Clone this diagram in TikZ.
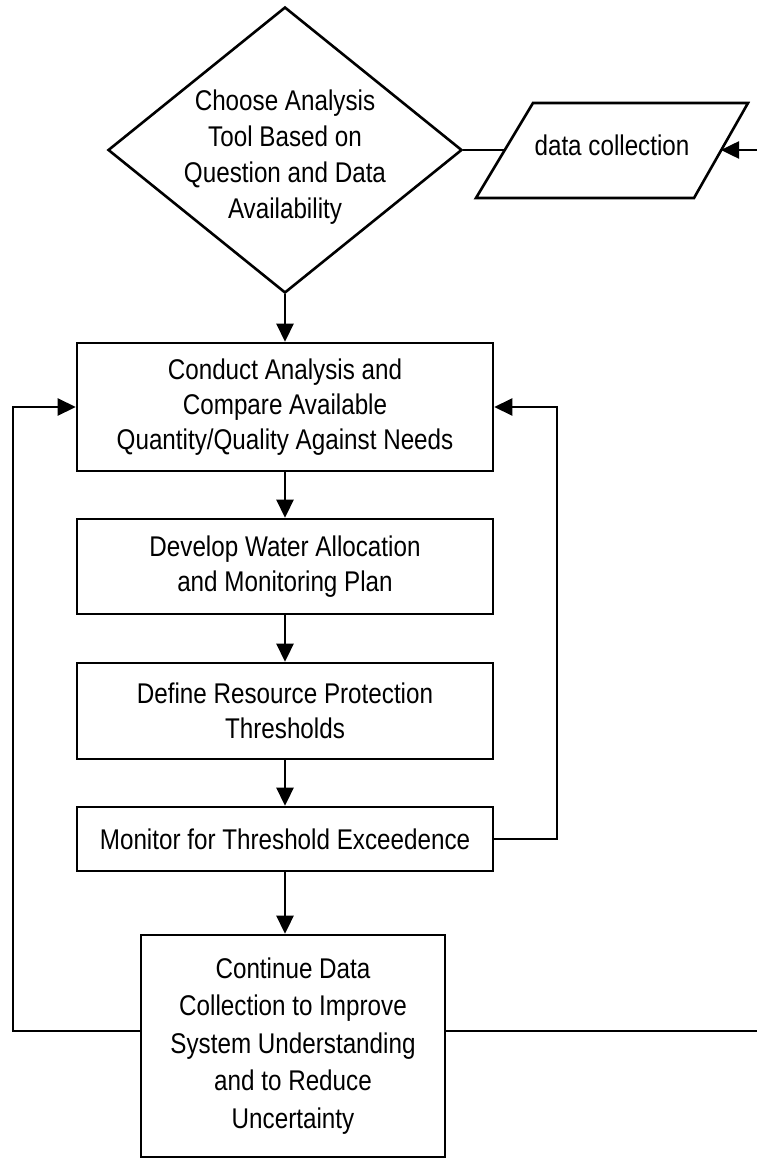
\documentclass[tikz,border=0pt]{standalone}
\usepackage{fontspec}
\setmainfont{Liberation Sans}[FakeStretch=0.85]
\usetikzlibrary{arrows.meta,shapes.geometric}
\begin{document}
\begin{tikzpicture}[x=1pt,y=-1pt,line width=2.6pt,
  arr/.style={-{Triangle[length=18pt,width=17pt]}},
  box/.style={draw,rectangle,align=center,inner sep=0pt},
  txt/.style={align=center,inner sep=0pt}]
\useasboundingbox (0,0) rectangle (756,1158);
% decision
\node[diamond,draw,minimum width=354pt,minimum height=286pt,inner sep=0pt] (d) at (285,150) {};
\node[txt,font=\fontsize{28.5}{36}\selectfont] (dt) at (285,157) {Choose Analysis\\Tool Based on\\Question and Data\\Availability};
% data collection (parallelogram)
\draw (476,198) -- (533,103) -- (748,103) -- (694,198) -- cycle;
\node[txt,font=\fontsize{28.5}{36}\selectfont] (dc) at (612,145) {data collection};
\coordinate (dcL) at (505,150);
\coordinate (dcR) at (721,150);
% process boxes
\node[box,minimum width=416pt,minimum height=128pt,font=\fontsize{28.5}{35}\selectfont] (b1) at (285,407) {Conduct Analysis and\\Compare Available\\Quantity/Quality Against Needs};
\node[box,minimum width=416pt,minimum height=95pt,font=\fontsize{28.5}{35}\selectfont] (b2) at (285,566.5) {Develop Water Allocation\\and Monitoring Plan};
\node[box,minimum width=416pt,minimum height=96pt,font=\fontsize{28.5}{35}\selectfont] (b3) at (285,711) {Define Resource Protection\\Thresholds};
\node[box,minimum width=416pt,minimum height=64pt,font=\fontsize{28.5}{35}\selectfont] (b4) at (285,839) {Monitor for Threshold Exceedence};
\node[box,minimum width=304pt,minimum height=222pt,font=\fontsize{28.5}{37.5}\selectfont] (b5) at (293,1046) {Continue Data\\Collection to Improve\\System Understanding\\and to Reduce\\Uncertainty};
% loop corner points
\coordinate (L) at (13,1031);
\coordinate (R) at (557,839);
\coordinate (RB) at (790,1031);
\coordinate (RT) at (790,150);
% connectors
\draw (d.east) -- (dcL);
\draw[arr] (d.south) -- (b1.north);
\draw[arr] (b1.south) -- (b2.north);
\draw[arr] (b2.south) -- (b3.north);
\draw[arr] (b3.south) -- (b4.north);
\draw[arr] (b4.south) -- (b4.south |- b5.north);
\draw[arr] ([yshift=15pt]b5.west) -- (L) |- (b1.west);
\draw[arr] (b4.east) -- (R) |- (b1.east);
\draw[arr] ([yshift=15pt]b5.east) -- (RB) -- (RT) -- (dcR);
\end{tikzpicture}
\end{document}
